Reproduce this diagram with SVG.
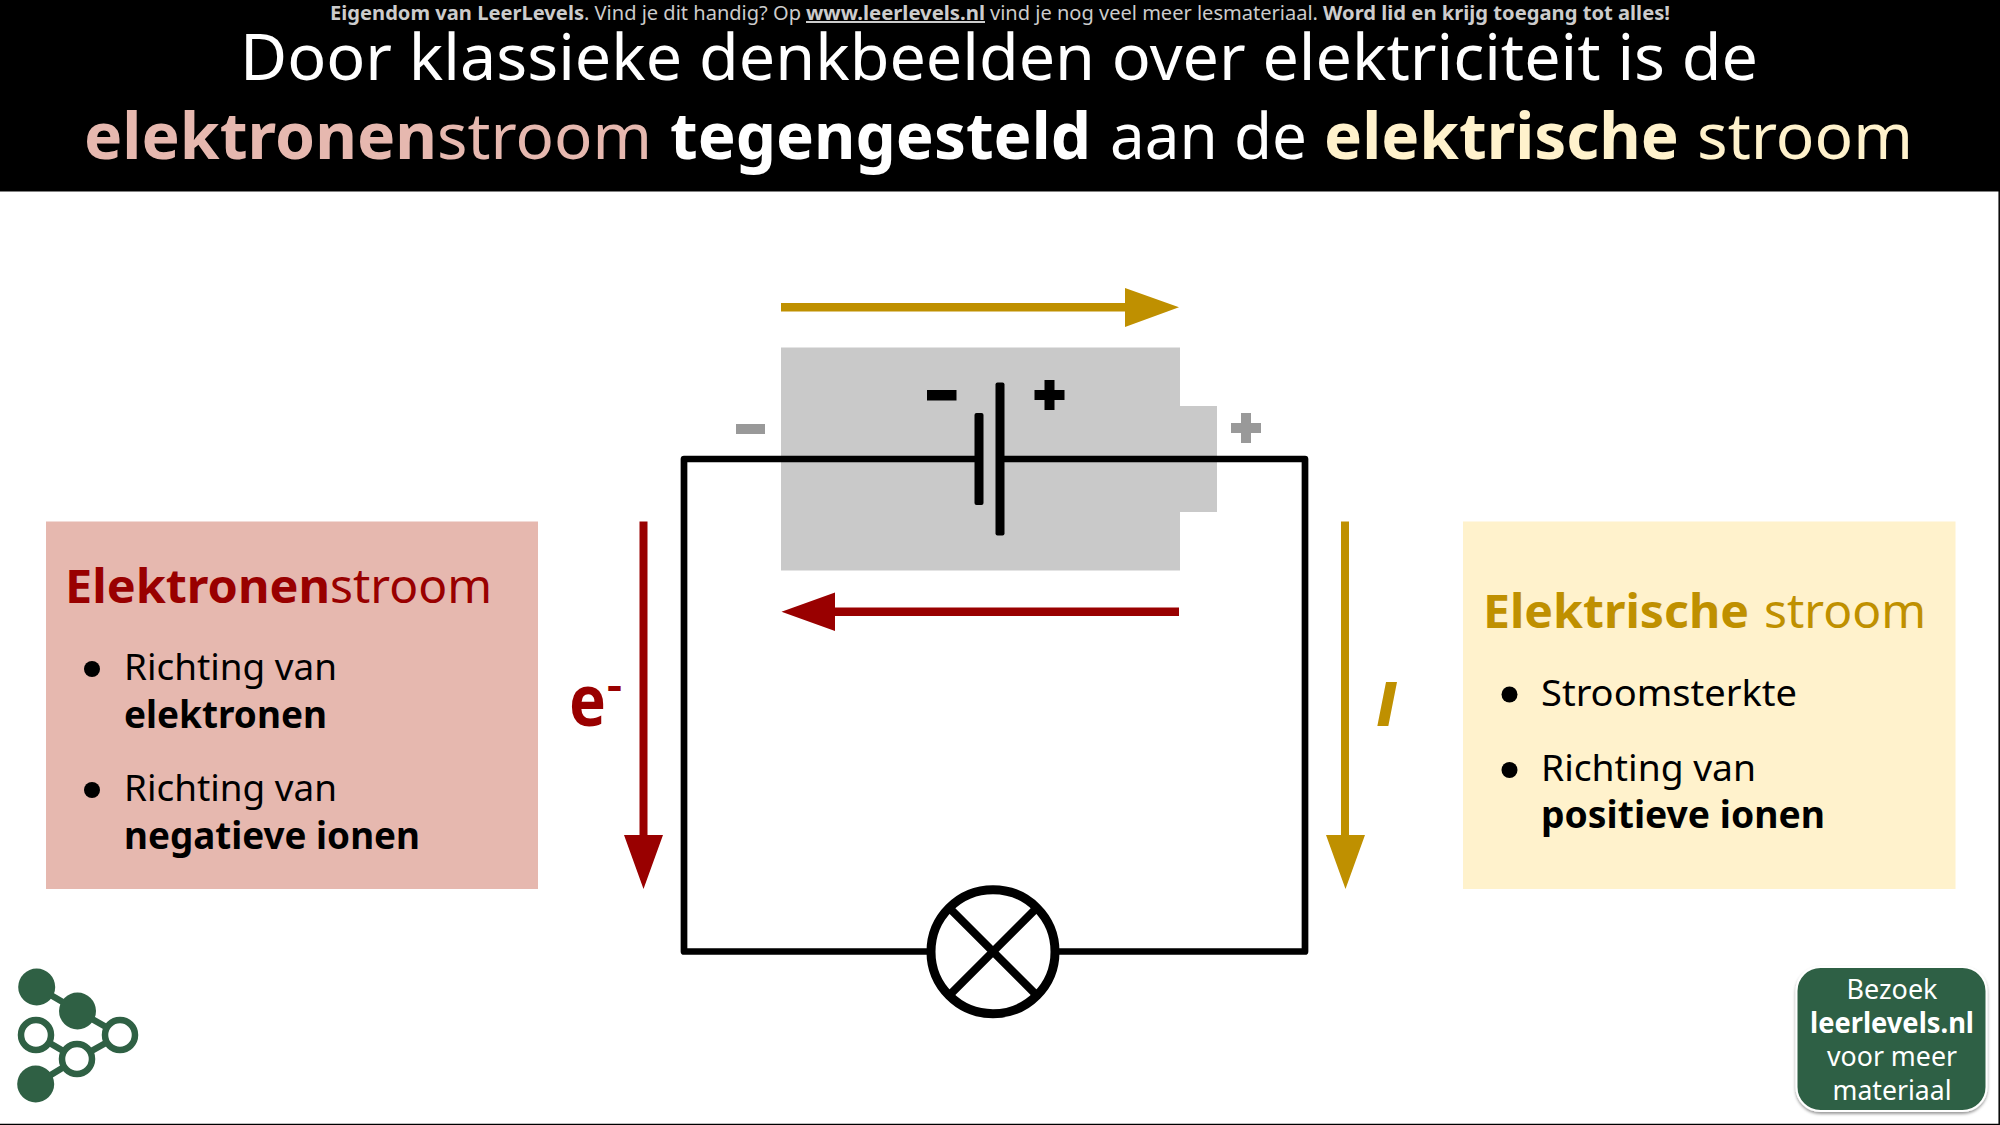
<svg xmlns="http://www.w3.org/2000/svg" width="2000" height="1125" viewBox="0 0 2000 1125">
<style>
text{font-family:"Noto Sans","Open Sans","Liberation Sans",sans-serif}
.b{font-weight:700}
.t{font-size:64px;fill:#fff}
.n{font-size:20px;fill:#cccccc}
.h{font-size:47px}
.p{font-size:37px;fill:#000}
.btn{font-size:28px;fill:#fff;text-anchor:middle}
.red{fill:#990000}.gold{fill:#bf9000}
.wire{fill:none;stroke:#000;stroke-width:6.7;stroke-linejoin:round;stroke-linecap:round}
.logo{fill:none;stroke:#2f6044;stroke-width:6.5}
.fill{fill:#2f6044;stroke:none}
.ring{fill:#fff;stroke:#2f6044;stroke-width:6.5}
</style>
<defs>
<filter id="sh" x="-10%" y="-10%" width="120%" height="120%"><feDropShadow dx="0" dy="2" stdDeviation="1.5" flood-color="#000" flood-opacity=".4"/></filter>
</defs>
<rect width="2000" height="1125" fill="#fff"/>
<g id="header">
<rect width="2000" height="191" fill="#000"/>
<rect y="191" width="2000" height="1" fill="#808080"/>
<text class="n" y="20"><tspan class="b" x="330" textLength="254" lengthAdjust="spacingAndGlyphs">Eigendom van LeerLevels</tspan><tspan x="584" textLength="217" lengthAdjust="spacingAndGlyphs">. Vind je dit handig? Op</tspan><tspan class="b" x="806" textLength="179" lengthAdjust="spacingAndGlyphs" text-decoration="underline">www.leerlevels.nl</tspan><tspan x="990" textLength="328" lengthAdjust="spacingAndGlyphs">vind je nog veel meer lesmateriaal.</tspan><tspan class="b" x="1323" textLength="347" lengthAdjust="spacingAndGlyphs">Word lid en krijg toegang tot alles!</tspan></text>
<text class="t" x="240" y="80" textLength="1518" lengthAdjust="spacingAndGlyphs">Door klassieke denkbeelden over elektriciteit is de</text>
<text class="t" y="159"><tspan class="b" x="84" textLength="353" lengthAdjust="spacingAndGlyphs" fill="#e6b8af">elektronen</tspan><tspan x="437" textLength="215" lengthAdjust="spacingAndGlyphs" fill="#e6b8af">stroom</tspan><tspan class="b" x="670" textLength="421" lengthAdjust="spacingAndGlyphs">tegengesteld</tspan><tspan x="1110" textLength="197" lengthAdjust="spacingAndGlyphs">aan de</tspan><tspan class="b" x="1324" textLength="355" lengthAdjust="spacingAndGlyphs" fill="#fff2cc">elektrische</tspan><tspan x="1697" textLength="216" lengthAdjust="spacingAndGlyphs" fill="#fff2cc">stroom</tspan></text>
</g>
<g id="battery">
<path d="M781 347.500H1180V406H1217V512H1180V570.500H781Z" fill="#c9c9c9"/>
<path d="M736 424h29v10h-29Z" fill="#999"/>
<path d="M1241 413h10v10h10v10h-10v10h-10v-10h-10v-10h10Z" fill="#999"/>
<path d="M927 390h29.500v10.500h-29.500Z"/>
<path d="M1044.500 380h10v10h10v10h-10v10h-10v-10h-10v-10h10Z"/>
</g>
<g id="connectors">
<path class="wire" d="M979 459H684V951.500H1305V459H1000"/>
<g id="arrows">
<path class="gold" d="M781 303H1125V288L1179 307.300L1125 327V311.500H781Z"/>
<path class="red" d="M1179 607.500H835V592.500L781.500 611.700L835 631V616H1179Z"/>
<path class="red" d="M639.500 521.500H647.500V835H663L643.500 889L624 835H639.500Z"/>
<path class="gold" d="M1341 521.500H1349V835H1365L1345.500 889L1326 835H1341Z"/>
</g>
</g>
<g id="cell">
<rect x="974.500" y="413" width="9" height="92" rx="2"/>
<rect x="995.500" y="382.500" width="9" height="153" rx="2"/>
</g>
<g id="lamp">
<circle cx="993" cy="951.700" r="62" fill="#fff" stroke="#000" stroke-width="9"/>
<path d="M949 907.700L1037 995.700M1037 907.700L949 995.700" stroke="#000" stroke-width="8" fill="none"/>
</g>
<g id="elektronenstroom">
<rect x="46" y="521.500" width="492" height="367.500" fill="#e6b8af"/>
<text class="h red" y="603"><tspan class="b" x="65" textLength="265" lengthAdjust="spacingAndGlyphs">Elektronen</tspan><tspan x="330" textLength="162" lengthAdjust="spacingAndGlyphs">stroom</tspan></text>
<circle cx="92" cy="669" r="8"/><circle cx="92" cy="790" r="8"/>
<text class="p" x="124" y="680" textLength="213" lengthAdjust="spacingAndGlyphs">Richting van</text>
<text class="p b" x="124" y="728" textLength="203" lengthAdjust="spacingAndGlyphs">elektronen</text>
<text class="p" x="124" y="801" textLength="213" lengthAdjust="spacingAndGlyphs">Richting van</text>
<text class="p b" x="124" y="849" textLength="296" lengthAdjust="spacingAndGlyphs">negatieve ionen</text>
</g>
<g id="elektrische-stroom">
<rect x="1463" y="521.500" width="492.500" height="367.500" fill="#fff2cc"/>
<text class="h gold" y="628"><tspan class="b" x="1483" textLength="266" lengthAdjust="spacingAndGlyphs">Elektrische</tspan><tspan x="1764" textLength="162" lengthAdjust="spacingAndGlyphs">stroom</tspan></text>
<circle cx="1509.500" cy="694.500" r="8"/><circle cx="1509.500" cy="770" r="8"/>
<text class="p" x="1541" y="706" textLength="256" lengthAdjust="spacingAndGlyphs">Stroomsterkte</text>
<text class="p" x="1541" y="781" textLength="215" lengthAdjust="spacingAndGlyphs">Richting van</text>
<text class="p b" x="1541" y="828" textLength="284" lengthAdjust="spacingAndGlyphs">positieve ionen</text>
</g>
<g id="label-e">
<text class="red b" font-size="71" x="569" y="726" textLength="37" lengthAdjust="spacingAndGlyphs">e</text>
<text class="red b" font-size="40" x="607" y="699" textLength="15" lengthAdjust="spacingAndGlyphs">-</text>
</g>
<g id="label-i">
<text class="gold b" style="font-family:'Liberation Sans',Arial,sans-serif" font-size="62" font-style="italic" stroke="#bf9000" stroke-width="2" x="1377.500" y="724.500">I</text>
</g>
<g id="logo">
<path class="logo" d="M37 987L78 1011L120 1035L77 1059L36 1035M77 1059L36 1084"/>
<circle class="fill" cx="36.700" cy="987" r="18.500"/>
<circle class="fill" cx="77.500" cy="1011" r="18.500"/>
<circle class="ring" cx="36" cy="1035" r="15"/>
<circle class="ring" cx="120" cy="1035" r="15"/>
<circle class="ring" cx="77" cy="1059" r="15"/>
<circle class="fill" cx="35.700" cy="1084" r="18.500"/>
</g>
<g id="bezoek">
<rect x="1796.500" y="967" width="190" height="144" rx="24" fill="#2f6044" stroke="#fff" stroke-width="2" filter="url(#sh)"/>
<text class="btn" x="1892" y="998.500" textLength="91" lengthAdjust="spacingAndGlyphs">Bezoek</text>
<text class="btn b" x="1892" y="1033" textLength="164" lengthAdjust="spacingAndGlyphs">leerlevels.nl</text>
<text class="btn" x="1892" y="1066" textLength="130" lengthAdjust="spacingAndGlyphs">voor meer</text>
<text class="btn" x="1892" y="1100" textLength="119" lengthAdjust="spacingAndGlyphs">materiaal</text>
</g>
<path id="frame" d="M0 1124.400H1999.200V191" fill="none" stroke="#000" stroke-width="1.500"/>
</svg>
